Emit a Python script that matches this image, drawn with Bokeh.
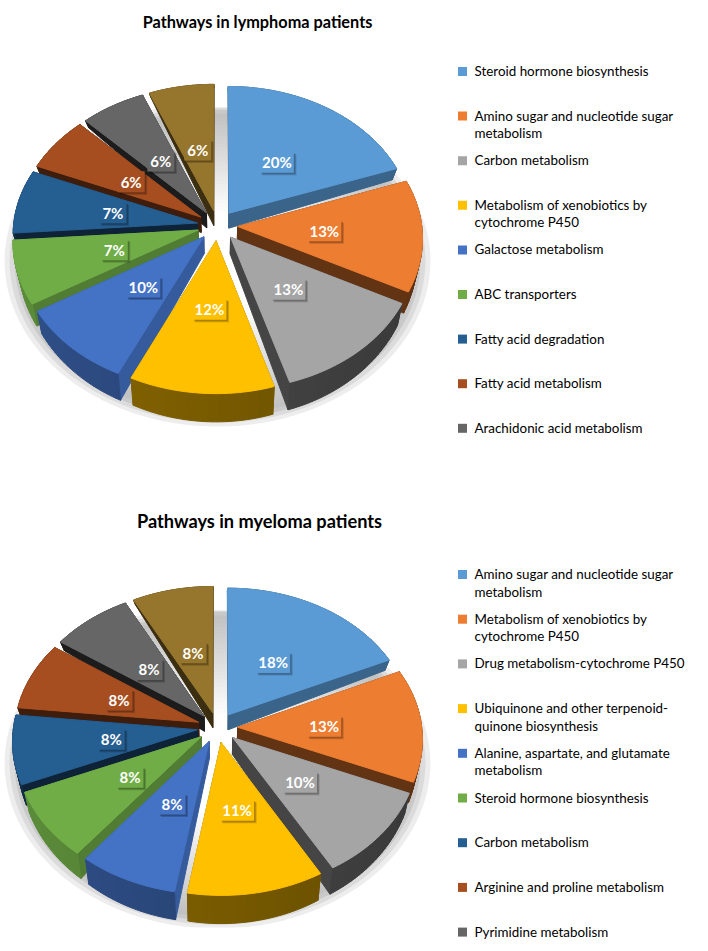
import math
from bokeh.plotting import figure
from bokeh.models import Range1d
from bokeh.core.properties import value
from bokeh.embed import file_html
from bokeh.resources import INLINE

# ---------- data ----------
title_a = "Pathways in lymphoma patients"
title_b = "Pathways in myeloma patients"
values_a = [19.6, 13.0, 12.8, 11.7, 9.5, 7.4, 7.4, 6.4, 6.2, 6.2]
values_b = [18.2, 13.1, 10.4, 11.0, 8.0, 8.0, 8.0, 7.9, 7.7, 7.7]
legend_a = [
    ["Steroid hormone biosynthesis"],
    ["Amino sugar and nucleotide sugar", "metabolism"],
    ["Carbon metabolism"],
    ["Metabolism of xenobiotics by", "cytochrome P450"],
    ["Galactose metabolism"],
    ["ABC transporters"],
    ["Fatty acid degradation"],
    ["Fatty acid metabolism"],
    ["Arachidonic acid metabolism"],
]
legend_b = [
    ["Amino sugar and nucleotide sugar", "metabolism"],
    ["Metabolism of xenobiotics by", "cytochrome P450"],
    ["Drug metabolism-cytochrome P450"],
    ["Ubiquinone and other terpenoid-", "quinone biosynthesis"],
    ["Alanine, aspartate, and glutamate", "metabolism"],
    ["Steroid hormone biosynthesis"],
    ["Carbon metabolism"],
    ["Arginine and proline metabolism"],
    ["Pyrimidine metabolism"],
]

# ---------- styles ----------
colors = ["#5b9bd5", "#ed7d31", "#a5a5a5", "#ffc000", "#4472c4",
          "#70ad47", "#255e91", "#a64e20", "#666666", "#96752c"]
cut_shade = [0.65, 0.42, 0.42, 0.50, 0.80, 0.72, 0.38, 0.38, 0.28, 0.40]
arc_shade = [0.60, 0.48, 0.42, 0.47, 0.60, 0.70, 0.42, 0.42, 0.40, 0.45]

FONT = "Lato"
W, H = 700, 942
RX, RY, K = 184.0, 138.4, 0.078     # projection of the tilted disc
EXPLODE = 0.11
LABEL_R = 0.58
N_ARC = 1.5                          # degrees per arc step


def mix(hex_color, f):
    r, g, b = (int(hex_color[i:i + 2], 16) for i in (1, 3, 5))
    f = max(0.0, f)
    return "#%02x%02x%02x" % (int(r * f), int(g * f), int(b * f))


p = figure(width=W, height=H, x_range=Range1d(0, W), y_range=Range1d(H, 0),
           x_axis_type=None, y_axis_type=None, output_backend="svg",
           toolbar_location=None, min_border=0, outline_line_color=None,
           background_fill_color="white")
p.grid.visible = False


def draw_shadow(cx, cy, clip_top, clip_bottom):
    """Soft rim shadow of the plate below the pie."""
    rx, ry_up, ry_low, oy = 218.0, 162.0, 170.0, 35.0
    angs = [math.radians(a) for a in range(0, 360, 3)]
    steps = 40
    for i in range(steps):
        t = 1.0 - i * (1.0 - 0.1) / (steps - 1)
        if t > 0.92:
            g = (1.0 - t) / 0.08
        elif t > 0.30:
            g = 1.0 - (0.92 - t) / 0.62
        else:
            g = 0.0
        g = max(0.0, min(1.0, g))
        c = int(255 - g * 62)
        col = "#%02x%02x%02x" % (c, c, c)
        p.patch([cx + rx * t * math.cos(a) for a in angs],
                [cy + oy + (ry_low if math.sin(a) > 0 else ry_up) * t * math.sin(a) for a in angs],
                fill_color=col, line_color=None)
    # the shadow is cut straight at top and bottom
    p.quad(left=[cx - 235, cx - 235], right=[cx + 235, cx + 235],
           top=[clip_top - 60, clip_bottom], bottom=[clip_top, clip_bottom + 30],
           fill_color="white", line_color=None)


def draw_pie(vals, cx, cy):
    def proj(u, v):
        s = 1.0 / (1.0 + K * v)
        return cx + RX * u * s, cy - RY * v * s

    def drop(u, v):
        x, y = proj(u, v)
        return cx + (x - cx) * 0.975, y + 16.0 - 11.0 * v

    total = float(sum(vals))
    start = 0.0
    slices = []
    for i, val in enumerate(vals):
        sweep = 360.0 * val / total
        slices.append((i, start, sweep))
        start += sweep
    # back to front
    order = sorted(slices, key=lambda s: -math.cos(math.radians(s[1] + s[2] / 2)))

    xs, ys, fills = [], [], []
    for i, st, sw in order:
        mid = math.radians(st + sw / 2)
        ax, ay = EXPLODE * math.sin(mid), EXPLODE * math.cos(mid)
        n = max(3, int(sw / N_ARC))
        outline = [(ax + math.sin(math.radians(st + sw * j / n)),
                    ay + math.cos(math.radians(st + sw * j / n))) for j in range(n + 1)]
        faces = []
        ring = [(ax, ay)] + outline
        for j in range(len(ring)):
            a, b = ring[j], ring[(j + 1) % len(ring)]
            is_cut = j == 0 or j == len(ring) - 1
            mu = (a[0] + b[0]) / 2
            mv = (a[1] + b[1]) / 2
            if is_cut:
                col = mix(colors[i], cut_shade[i])
            else:
                col = mix(colors[i], arc_shade[i] * (1.0 - 0.16 * mu))
            faces.append((mv, a, b, col, is_cut))
        faces.sort(key=lambda f: -f[0])
        for mv, a, b, col, _ in faces:
            pa, pb, qa, qb = proj(*a), proj(*b), drop(*a), drop(*b)
            xs.append([pa[0], pb[0], qb[0], qa[0]])
            ys.append([pa[1], pb[1], qb[1], qa[1]])
            fills.append(col)
        top = [proj(*q) for q in ring]
        xs.append([q[0] for q in top])
        ys.append([q[1] for q in top])
        fills.append(colors[i])
    p.patches(xs, ys, fill_color=fills, line_color=fills, line_width=1.0)

    # data labels with a small shadowed box
    for i, st, sw in slices:
        mid = math.radians(st + sw / 2)
        lx, ly = proj(LABEL_R * math.sin(mid), LABEL_R * math.cos(mid))
        label = "%d%%" % round(vals[i])
        w = 34 if len(label) == 3 else 27
        h = 21
        p.rect([lx + 2.5], [ly + 2.5], w, h, fill_color="black", fill_alpha=0.18, line_color=None)
        p.rect([lx + 1.5], [ly + 1.5], w, h, fill_color="black", fill_alpha=0.18, line_color=None)
        p.rect([lx], [ly], w, h, fill_color=colors[i], line_color=None)
        p.text([lx], [ly], text=[label], text_color="white", text_align="center",
               text_baseline="middle", text_font=value(FONT), text_font_size="15px",
               text_font_style="bold")


def draw_legend(rows, first_y, step):
    for r, lines in enumerate(rows):
        y = first_y + r * step
        p.rect([462], [y], 9, 9, fill_color=colors[r], line_color=None)
        for k, line in enumerate(lines):
            p.text([474], [y - 0.5 + k * 17.5], text=[line], text_color="black", text_align="left",
                   text_baseline="middle", text_font=value(FONT), text_font_size="13.4px",
                   text_font_style="normal")


def draw_title(txt, x, y, size):
    p.text([x], [y], text=[txt], text_color="black", text_align="center",
           text_baseline="middle", text_font=value(FONT), text_font_size=size,
           text_font_style="bold")


draw_shadow(217, 225, 107, 428)
draw_shadow(217, 727, 610, 927)
draw_pie(values_a, 217, 225)
draw_pie(values_b, 217, 727)
draw_legend(legend_a, 71, 44.6)
draw_legend(legend_b, 574, 44.7)
draw_title(title_a, 257, 21, "16.3px")
draw_title(title_b, 259, 520, "18.2px")

open("out.html", "w").write(file_html(p, INLINE))
